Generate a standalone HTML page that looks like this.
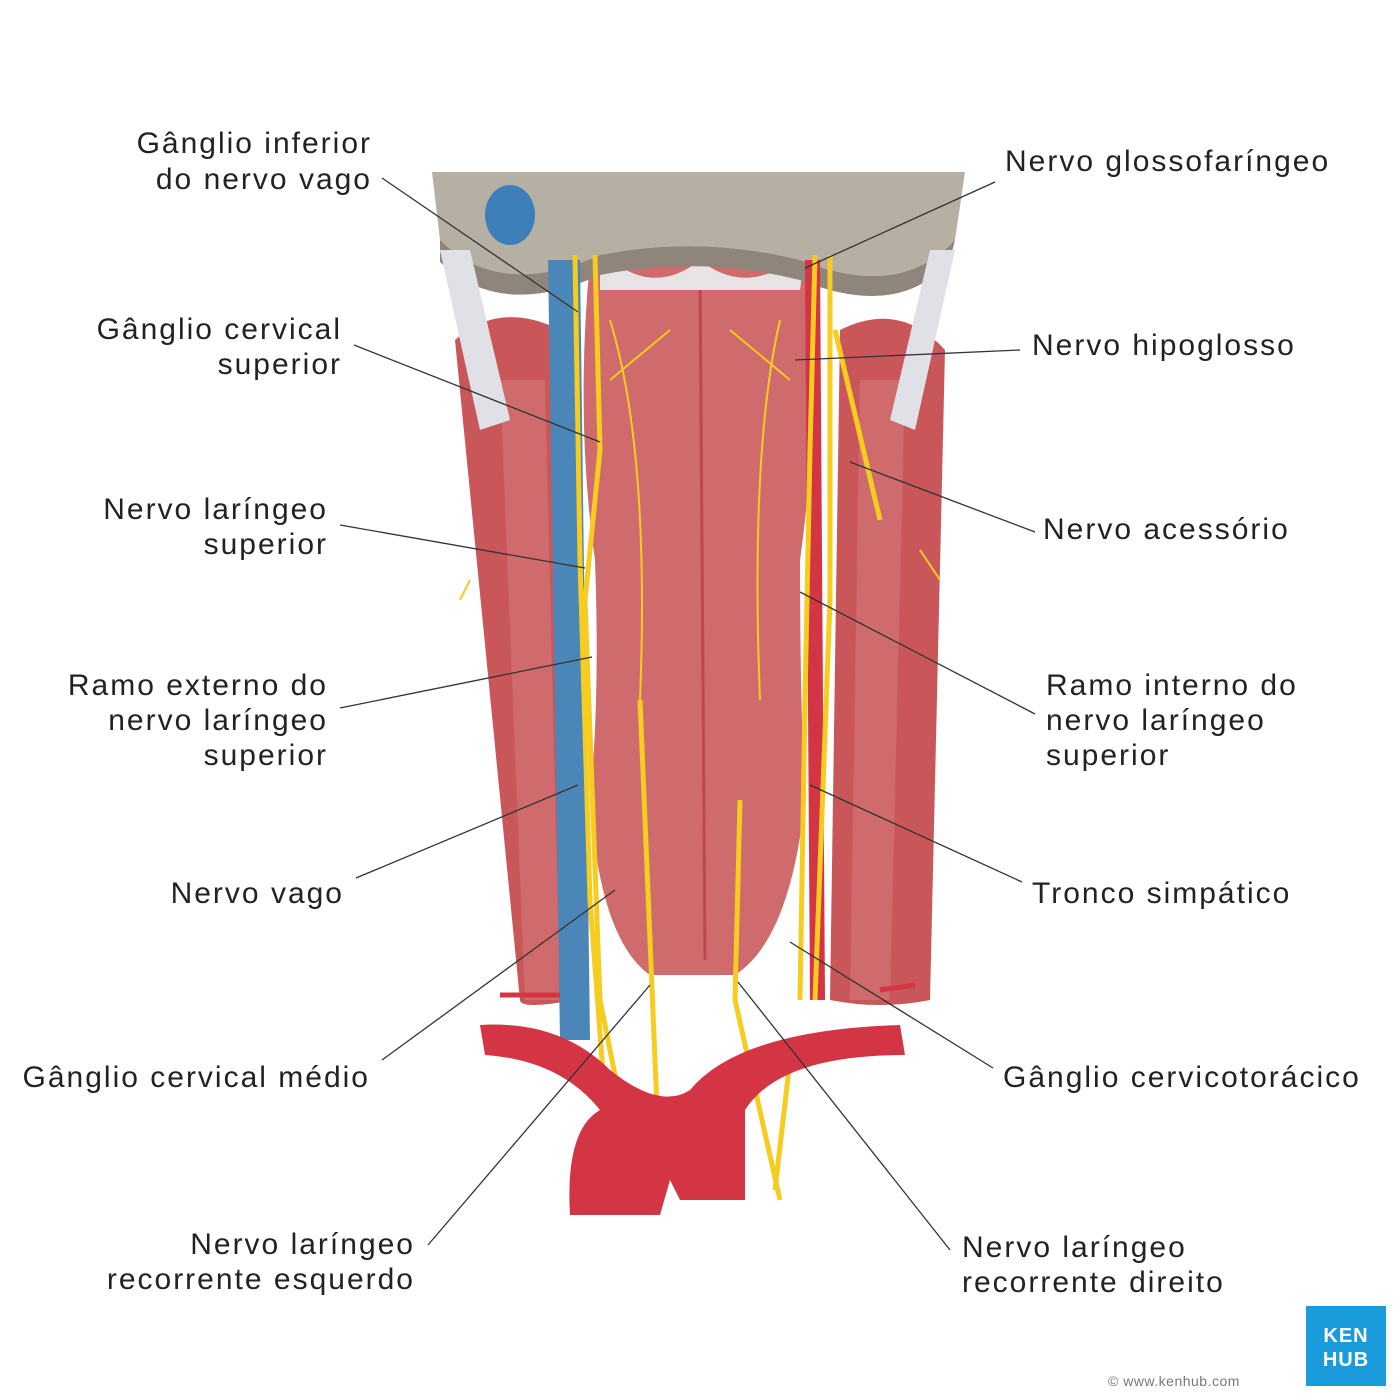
<!DOCTYPE html>
<html><head><meta charset="utf-8"><style>
html,body{margin:0;padding:0;background:#fff;}
svg{display:block}
text{font-family:"Liberation Sans",sans-serif;font-size:30px;fill:#222;letter-spacing:2px}
</style></head><body>
<svg width="1400" height="1400" viewBox="0 0 1400 1400" xmlns="http://www.w3.org/2000/svg">
<rect width="1400" height="1400" fill="#fff"/>
<path d="M455 340 Q500 300 560 330 L575 1000 Q520 1010 520 1000 Z" fill="#c9575a"/>
<path d="M500 380 L545 380 L560 1000 L525 1000 Z" fill="#d4787a" opacity="0.6"/>
<path d="M840 330 Q900 300 945 350 L930 1000 Q880 1010 830 1000 Z" fill="#c9575a"/>
<path d="M860 380 L905 380 L890 1000 L850 1000 Z" fill="#d4787a" opacity="0.6"/>
<path d="M590 260 L810 260 Q820 420 800 560 Q800 700 805 800 Q790 940 735 975 L650 975 Q600 940 590 800 Q600 700 595 560 Q575 420 590 260 Z" fill="#cf6b6d"/>
<path d="M700 270 L705 960" stroke="#b8494c" stroke-width="3"/>
<path d="M600 250 Q650 300 700 260 Q750 300 805 250 L800 290 L600 290 Z" fill="#e8e4e6"/>
<path d="M432 172 L965 172 L955 240 Q900 300 800 260 Q700 235 600 255 Q500 300 440 240 Z" fill="#b6afa4"/>
<path d="M440 240 Q500 300 600 255 Q700 235 800 260 Q900 300 955 240 L950 260 Q900 320 800 280 Q700 255 600 275 Q500 320 440 262 Z" fill="#8f857a"/>
<ellipse cx="510" cy="215" rx="25" ry="30" fill="#3d7fb8"/>
<path d="M440 250 L470 250 L510 420 L480 430 Z" fill="#dfe1e6"/>
<path d="M930 250 L955 250 L915 430 L890 420 Z" fill="#dfe1e6"/>
<path d="M548 260 L580 260 L590 1040 L560 1040 Z" fill="#4a86b8"/>
<path d="M805 260 L820 260 L825 1000 L810 1000 Z" fill="#d33545"/>
<g stroke="#f5cc1f" fill="none" stroke-width="5">
<path d="M575 255 L580 560 L590 900 L605 1100"/>
<path d="M595 255 L600 450 L585 600 L600 1000 L620 1100"/>
<path d="M815 255 L810 450 L805 700 L800 1000"/>
<path d="M830 255 L830 600 L815 1000"/>
<path d="M835 330 L880 520"/>
<path d="M640 700 L660 1180"/>
<path d="M740 800 L735 1000 L780 1200"/>
<path d="M790 1060 L775 1190"/>
</g>
<g stroke="#f5cc1f" fill="none" stroke-width="2">
<path d="M610 320 Q650 450 640 700"/><path d="M780 320 Q750 450 760 700"/>
<path d="M610 380 L670 330"/><path d="M790 380 L730 330"/>
<path d="M470 580 L460 600"/><path d="M920 550 L940 580"/>
</g>
<path d="M480 1025 Q560 1020 610 1070 Q660 1110 690 1090 Q740 1030 900 1025 L905 1055 Q780 1055 745 1110 L745 1200 L680 1200 L670 1180 L660 1215 L570 1215 Q565 1130 600 1110 Q560 1060 485 1055 Z" fill="#d33545"/>
<path d="M500 995 L560 995 M880 990 L915 985" stroke="#d33545" stroke-width="5"/>
<g stroke="#333" stroke-width="1.3">
<line x1="382" y1="178" x2="578" y2="312"/>
<line x1="354" y1="345" x2="600" y2="442"/>
<line x1="340" y1="525" x2="585" y2="568"/>
<line x1="340" y1="708" x2="592" y2="657"/>
<line x1="356" y1="878" x2="578" y2="785"/>
<line x1="382" y1="1060" x2="615" y2="890"/>
<line x1="428" y1="1245" x2="650" y2="985"/>
<line x1="995" y1="182" x2="805" y2="268"/>
<line x1="1020" y1="350" x2="795" y2="360"/>
<line x1="1035" y1="532" x2="850" y2="462"/>
<line x1="1035" y1="714" x2="800" y2="592"/>
<line x1="1022" y1="882" x2="810" y2="785"/>
<line x1="993" y1="1068" x2="790" y2="942"/>
<line x1="950" y1="1250" x2="738" y2="982"/>
</g>
<g text-anchor="end">
<text x="372" y="153">Gânglio inferior</text><text x="372" y="189">do nervo vago</text>
<text x="342" y="339">Gânglio cervical</text><text x="342" y="374">superior</text>
<text x="328" y="519">Nervo laríngeo</text><text x="328" y="554">superior</text>
<text x="328" y="695">Ramo externo do</text><text x="328" y="730">nervo laríngeo</text><text x="328" y="765">superior</text>
<text x="344" y="903">Nervo vago</text>
<text x="370" y="1087">Gânglio cervical médio</text>
<text x="415" y="1254">Nervo laríngeo</text><text x="415" y="1289">recorrente esquerdo</text>
</g>
<text x="1005" y="171">Nervo glossofaríngeo</text>
<text x="1032" y="355">Nervo hipoglosso</text>
<text x="1043" y="539">Nervo acessório</text>
<text x="1046" y="695">Ramo interno do</text><text x="1046" y="730">nervo laríngeo</text><text x="1046" y="765">superior</text>
<text x="1032" y="903">Tronco simpático</text>
<text x="1003" y="1087">Gânglio cervicotorácico</text>
<text x="962" y="1257">Nervo laríngeo</text><text x="962" y="1292">recorrente direito</text>
<rect x="1306" y="1306" width="80" height="80" fill="#1a9bdc"/>
<text x="1346" y="1342" text-anchor="middle" style="fill:#fff;font-size:20px;font-weight:bold;letter-spacing:1px">KEN</text>
<text x="1346" y="1366" text-anchor="middle" style="fill:#fff;font-size:20px;font-weight:bold;letter-spacing:1px">HUB</text>
<text x="1108" y="1386" style="font-size:14px;fill:#777;letter-spacing:0.5px">© www.kenhub.com</text>
</svg>
</body></html>
